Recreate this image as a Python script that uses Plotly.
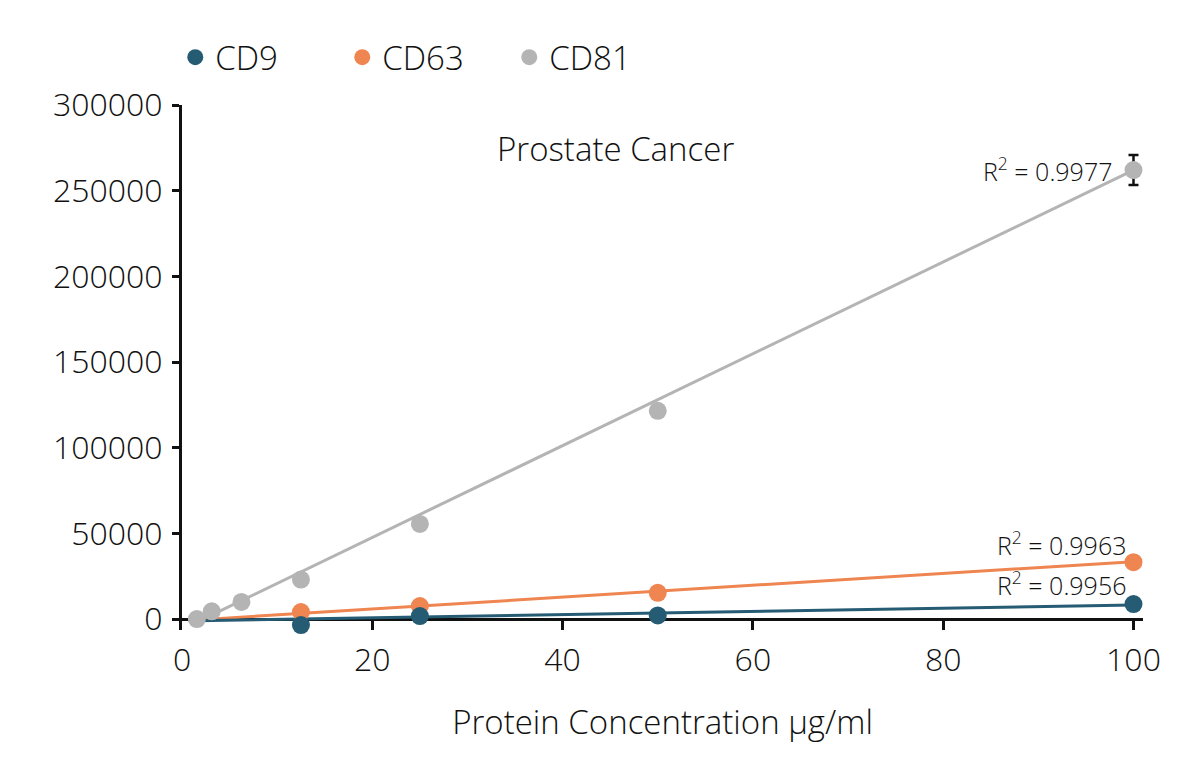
"""Prostate cancer standard curves: CD9 / CD63 / CD81 signal vs protein
concentration, with the fitted trend lines and the reported R^2."""

import plotly.graph_objects as go

# protein concentration (ug/ml)
conc_cd81 = [1.5625, 3.125, 6.25, 12.5, 25, 50, 100]
conc_low = [12.5, 25, 50, 100]

# signal values
cd81 = [0, 4500, 10000, 23000, 55500, 121500, 262000]
cd81_err = [0, 0, 0, 0, 0, 0, 8750]
cd63 = [4100, 7600, 15300, 33200]
cd9 = [-3500, 1750, 2100, 8750]

# linear trend lines, ends
fit_x = [1.5625, 100]
fit_cd81 = [-1800, 262000]
fit_cd63 = [-500, 33500]
fit_cd9 = [-950, 8200]

r2_labels = ["0.9956", "0.9963", "0.9977"]

BLUE, ORANGE, GRAY = "#265b74", "#ef8550", "#b4b4b5"
INK = "#111111"
FONT = "Open Sans"
TXT = dict(color=INK, family=FONT, weight=300)

fig = go.Figure()

# trend lines first so the points sit on top
for fy, color in [(fit_cd81, GRAY), (fit_cd63, ORANGE), (fit_cd9, BLUE)]:
    fig.add_trace(go.Scatter(
        x=fit_x, y=fy, mode="lines", line=dict(color=color, width=3),
        showlegend=False, hoverinfo="skip",
    ))

fig.add_trace(go.Scatter(
    x=conc_low, y=cd63, mode="markers", name="CD63", legendrank=2,
    marker=dict(color=ORANGE, size=18), cliponaxis=False,
))
fig.add_trace(go.Scatter(
    x=conc_low, y=cd9, mode="markers", name="CD9", legendrank=1,
    marker=dict(color=BLUE, size=18), cliponaxis=False,
))
fig.add_trace(go.Scatter(
    x=conc_cd81, y=cd81, mode="markers", name="CD81", legendrank=3,
    marker=dict(color=GRAY, size=18), cliponaxis=False,
    error_y=dict(type="data", array=cd81_err, color=INK, thickness=2.5, width=5),
))

# R^2 labels: (x, y) of each label's right edge / middle
r2_x = [99.4, 99.4, 97.9]
r2_y = [20700, 44000, 262500]
for xv, yv, lab in zip(r2_x, r2_y, r2_labels):
    fig.add_annotation(
        x=xv, y=yv, xanchor="right", yanchor="middle", showarrow=False,
        text=f"R<sup>2</sup> = {lab}", font=dict(size=25, **TXT),
    )

fig.add_annotation(
    x=0.4506, y=274900, xref="paper", yref="y", text="Prostate Cancer",
    showarrow=False, font=dict(size=33, **TXT),
)

fig.update_xaxes(
    range=[0, 101], tickvals=[0, 20, 40, 60, 80, 100],
    showline=False, showgrid=False, zeroline=False, automargin=False,
    ticks="inside", ticklen=11, tickwidth=3, tickcolor=INK,
    ticklabelstandoff=8, tickfont=dict(size=32, **TXT),
    title=dict(text="Protein Concentration µg/ml", standoff=31, font=dict(size=33, **TXT)),
    layer="below traces",
)
fig.update_yaxes(
    range=[-6400, 300000], tickvals=[0, 50000, 100000, 150000, 200000, 250000, 300000],
    tickformat="d", automargin=False,
    showline=True, linewidth=3, linecolor=INK, showgrid=False,
    zeroline=True, zerolinewidth=3, zerolinecolor=INK,
    ticks="outside", ticklen=7, tickwidth=3, tickcolor=INK,
    ticklabelstandoff=3, tickfont=dict(size=32, **TXT),
    layer="below traces",
)

# the page sits 8px in from the window corner, so margins are offset by that
fig.update_layout(
    width=1200, height=770,
    margin=dict(l=174, r=65, t=97, b=148),
    paper_bgcolor="white", plot_bgcolor="white",
    font=dict(family=FONT, color=INK),
    showlegend=True,
    legend=dict(
        orientation="h", x=-0.007, y=1.091, xanchor="left", yanchor="middle",
        entrywidth=122, entrywidthmode="pixels", traceorder="normal",
        font=dict(size=33, **TXT), bgcolor="rgba(0,0,0,0)",
    ),
)

fig.write_html("out.html")
